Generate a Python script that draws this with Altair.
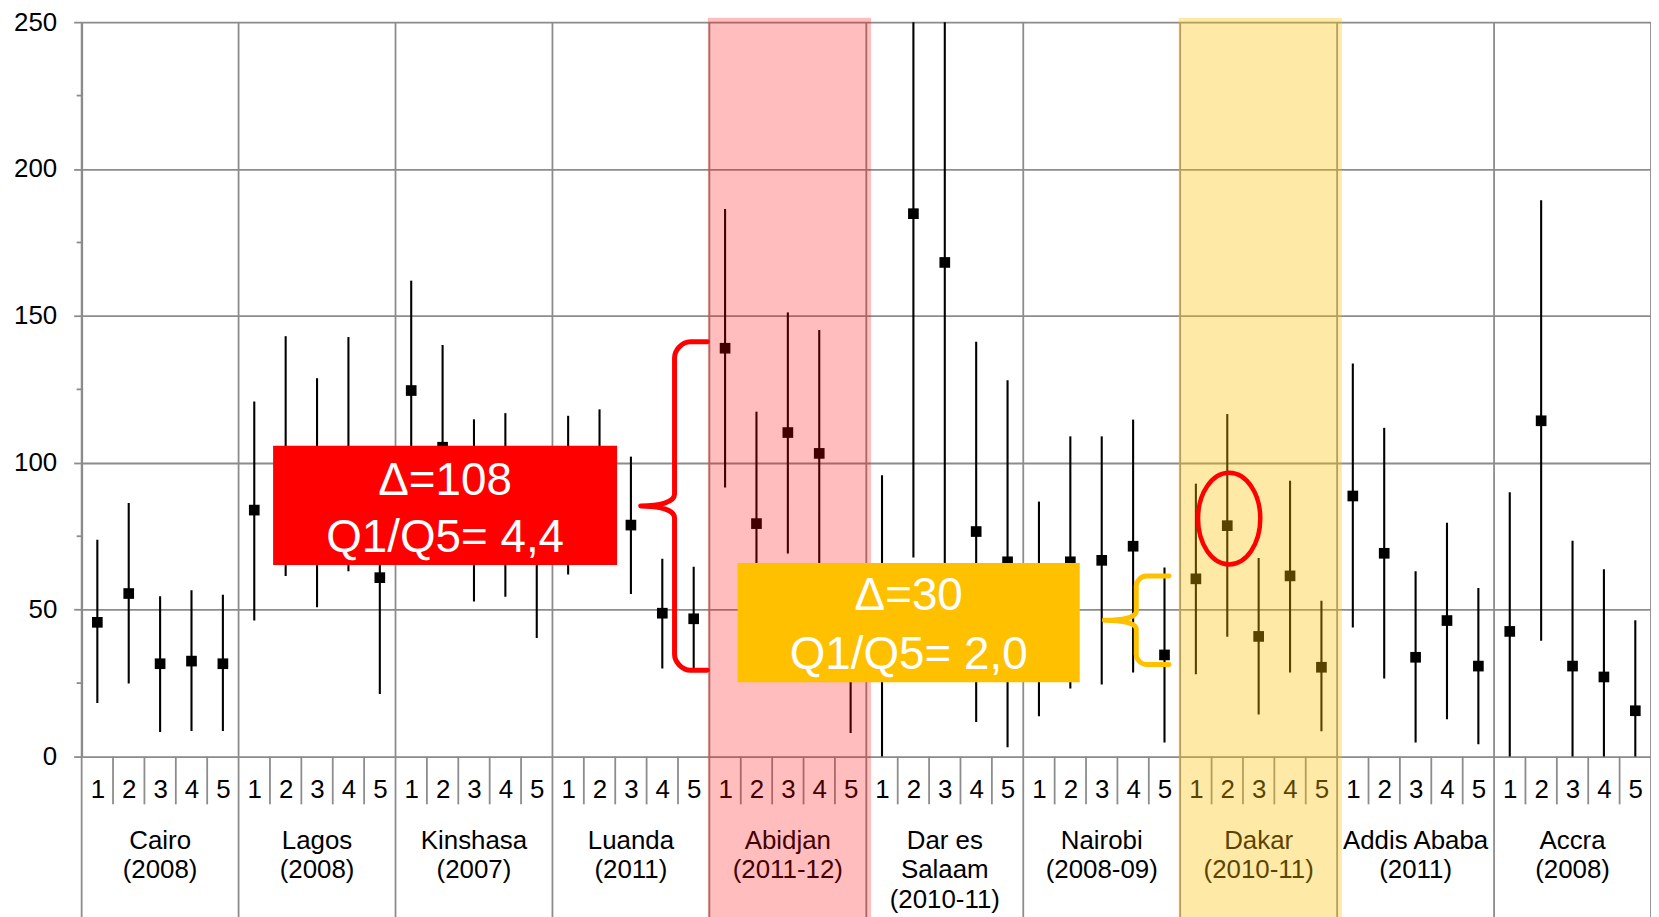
import altair as alt
import pandas as pd

FONT = "Liberation Sans"
GRID = "#8c8c8c"

# ---------------- data ----------------
cities = ["Cairo", "Lagos", "Kinshasa", "Luanda", "Abidjan",
          "Dar es Salaam", "Nairobi", "Dakar", "Addis Ababa", "Accra"]
city_labels = ["Cairo\n(2008)", "Lagos\n(2008)", "Kinshasa\n(2007)", "Luanda\n(2011)",
               "Abidjan\n(2011-12)", "Dar es\nSalaam\n(2010-11)", "Nairobi\n(2008-09)",
               "Dakar\n(2010-11)", "Addis Ababa\n(2011)", "Accra\n(2008)"]
quintiles = [1, 2, 3, 4, 5]

estimate = [
    [45.7, 55.5, 31.6, 32.5, 31.6],
    [83.9, 102.0, 90.0, 103.0, 60.9],
    [124.6, 105.3, 83.8, 85.6, 72.0],
    [89.0, 92.0, 78.8, 48.8, 46.9],
    [139.0, 79.3, 110.3, 103.2, 31.0],
    [47.5, 184.8, 168.2, 76.6, 66.3],
    [50.3, 66.3, 66.8, 71.6, 34.6],
    [60.5, 78.6, 40.9, 61.5, 30.4],
    [88.7, 69.2, 33.8, 46.3, 30.8],
    [42.6, 114.3, 30.8, 27.1, 15.6],
]
lower = [
    [18.2, 24.9, 8.4, 8.7, 8.7],
    [46.3, 61.5, 50.8, 63.1, 21.3],
    [87.0, 70.5, 52.8, 54.4, 40.4],
    [62.0, 66.0, 55.3, 30.0, 28.9],
    [91.6, 41.2, 69.1, 61.2, 8.0],
    [-0.9, 67.8, 60.0, 11.8, 3.2],
    [13.7, 23.2, 24.5, 28.6, 4.8],
    [28.0, 40.8, 14.3, 28.6, 8.6],
    [43.9, 26.6, 4.8, 12.7, 4.2],
    [-4.8, 39.4, -11.9, -9.6, -15.2],
]
upper = [
    [73.8, 86.3, 54.6, 56.6, 55.1],
    [120.9, 143.1, 128.8, 142.8, 100.5],
    [162.0, 140.1, 114.8, 116.9, 103.6],
    [116.0, 118.2, 102.1, 67.3, 64.6],
    [186.4, 117.4, 151.2, 145.2, 54.0],
    [95.8, 302.0, 276.0, 141.2, 128.1],
    [86.8, 109.0, 109.0, 114.7, 64.4],
    [92.9, 116.6, 67.6, 93.9, 53.0],
    [133.8, 111.9, 63.1, 79.6, 57.4],
    [90.0, 189.4, 73.5, 63.8, 46.4],
]
y_ticks = [0, 50, 100, 150, 200, 250]
y_minor = [25, 75, 125, 175, 225]

highlight_cities = ["Abidjan", "Dakar"]
highlight_colors = ["#ff0000", "#ffc000"]
highlight_opacity = [0.26, 0.35]

box_lines = [["\u0394=108", "Q1/Q5= 4,4"], ["\u0394=30", "Q1/Q5= 2,0"]]
box_colors = ["#ff0000", "#ffc000"]

# ---------------- tables ----------------
rows = []
for c, city in enumerate(cities):
    for qi, q in enumerate(quintiles):
        rows.append({"city": city, "q": q, "x": c * 5 + qi + 0.5,
                     "est": estimate[c][qi], "lo": lower[c][qi], "hi": upper[c][qi]})
df = pd.DataFrame(rows)

n_slots = len(cities) * 5
PLOT_W, PLOT_H = 1577, 738
PX_PER_UNIT = PLOT_H / 250.0

xscale = alt.Scale(domain=[0, n_slots], nice=False, zero=False)
yscale = alt.Scale(domain=[0, 250], nice=False, zero=False)

yaxis = alt.Axis(values=y_ticks, title=None, grid=True, gridColor=GRID, gridWidth=1.8,
                 domainColor=GRID, domainWidth=2, tickColor=GRID, tickSize=8, tickWidth=1.8,
                 labelFontSize=26, labelFont=FONT, labelColor="black", labelPadding=17)
xaxis = alt.Axis(values=[i + 0.5 for i in range(n_slots)],
                 labelExpr="floor(datum.value) % 5 + 1", title=None, grid=False,
                 ticks=False, domain=False, labelFontSize=26, labelFont=FONT,
                 labelColor="black", labelPadding=20, labelBaseline="top",
                 labelOverlap=False, labelFlush=False)


def X(field, **kw):
    return alt.X(field, type="quantitative", scale=xscale, axis=xaxis, **kw)


def Y(field, **kw):
    return alt.Y(field, type="quantitative", scale=yscale, axis=yaxis, **kw)


# city separators (through the label area)
sep_df = pd.DataFrame({"b": [c * 5 for c in range(len(cities) + 1)],
                       "top": 250, "bottom": -60})
separators = alt.Chart(sep_df).mark_rule(color=GRID, strokeWidth=1.8, clip=False).encode(
    x=X("b"), y=Y("top"), y2="bottom:Q")

qt_df = pd.DataFrame({"k": [k for k in range(1, n_slots) if k % 5 != 0],
                      "top": 0, "bottom": -48 / PX_PER_UNIT})
qticks = alt.Chart(qt_df).mark_rule(color=GRID, strokeWidth=1.8, clip=False).encode(
    x=X("k"), y=Y("top"), y2="bottom:Q")

minor = alt.Chart(pd.DataFrame({"v": y_minor})).mark_rule(color=GRID, strokeWidth=1.8).encode(
    y=Y("v"), x=alt.value(-5), x2=alt.value(0))

bars = alt.Chart(df).mark_rule(color="black", strokeWidth=2.1, clip=True).encode(
    x=X("x"), y=Y("lo"), y2="hi:Q")

points = alt.Chart(df).mark_point(shape="square", filled=True, size=115, color="black",
                                  opacity=1).encode(x=X("x"), y=Y("est"))

city_df = pd.DataFrame({"xc": [c * 5 + 2.5 for c in range(len(cities))],
                        "y0": 0, "label": city_labels})
city_text = alt.Chart(city_df).mark_text(
    align="center", baseline="top", dy=72, lineBreak="\n", lineHeight=29.5,
    fontSize=26, font=FONT, color="black", clip=False).encode(
    x=X("xc"), y=Y("y0"), text="label:N")

# highlight bands
hl_rows = []
for city, col, op in zip(highlight_cities, highlight_colors, highlight_opacity):
    c = cities.index(city)
    hl_rows.append({"x0": c * 5 - 0.05, "x1": c * 5 + 5.15, "y0": 251.5, "y1": -60,
                    "fill": col, "op": op})
hl = alt.Chart(pd.DataFrame(hl_rows)).mark_rect(clip=False).encode(
    x=X("x0"), x2="x1:Q", y=Y("y0"), y2="y1:Q",
    color=alt.Color("fill:N", scale=None), opacity=alt.Opacity("op:Q", scale=None))

# annotation boxes
box_df = pd.DataFrame({"x0": [6.10, 20.9], "x1": [17.06, 31.8],
                       "y0": [105.8, 65.9], "y1": [65.2, 25.3], "fill": box_colors})
boxes = alt.Chart(box_df).mark_rect(clip=False).encode(
    x=X("x0"), x2="x1:Q", y=Y("y0"), y2="y1:Q",
    color=alt.Color("fill:N", scale=None))

btxt_df = pd.DataFrame({
    "xc": [11.58, 11.58, 26.35, 26.35],
    "yc": [94.2, 74.7, 54.9, 35.0],
    "t": [box_lines[0][0], box_lines[0][1], box_lines[1][0], box_lines[1][1]]})
box_text = alt.Chart(btxt_df).mark_text(
    align="center", baseline="middle", fontSize=46, font=FONT, color="white", dy=1).encode(
    x=X("xc"), y=Y("yc"), text="t:N")


def brace_path(h, end, tip, r, rt):
    segs = [
        ("M", [end, -h]), ("L", [r, -h]),
        ("C", [r * 0.45, -h, 0, -h + r * 0.55, 0, -h + r]),
        ("L", [0, -rt]),
        ("C", [0, -rt * 0.3, -tip * 0.45, 0, -tip, 0]),
        ("C", [-tip * 0.45, 0, 0, rt * 0.3, 0, rt]),
        ("L", [0, h - r]),
        ("C", [0, h - r * 0.55, r * 0.45, h, r, h]),
        ("L", [end, h]),
    ]
    out = []
    for cmd, nums in segs:
        out.append(cmd + " " + " ".join(f"{v / h:.4f}" for v in nums))
    return " ".join(out)


red_h = (141.2 - 29.4) / 2 * PX_PER_UNIT
yel_h = (61.5 - 31.4) / 2 * PX_PER_UNIT
red_brace = alt.Chart(pd.DataFrame({"x": [18.89], "y": [85.3]})).mark_point(
    shape=brace_path(red_h, 33, 34, 16, 12), size=(2 * red_h) ** 2, filled=False,
    stroke="#ff0000", strokeWidth=5, opacity=1, strokeCap="round", strokeJoin="round").encode(
    x=X("x"), y=Y("y"))
yel_brace = alt.Chart(pd.DataFrame({"x": [33.6], "y": [46.4]})).mark_point(
    shape=brace_path(yel_h, 33, 32, 10, 9), size=(2 * yel_h) ** 2, filled=False,
    stroke="#ffc000", strokeWidth=5, opacity=1, strokeCap="round", strokeJoin="round").encode(
    x=X("x"), y=Y("y"))

k = 0.5523
rx = 0.68
ellipse_path = (f"M {rx} 0 C {rx} {k} {rx * k:.4f} 1 0 1 C {-rx * k:.4f} 1 {-rx} {k} {-rx} 0 "
                f"C {-rx} {-k} {-rx * k:.4f} -1 0 -1 C {rx * k:.4f} -1 {rx} {-k} {rx} 0 Z")
ellipse = alt.Chart(pd.DataFrame({"x": [36.56], "y": [81.0]})).mark_point(
    shape=ellipse_path, size=92 ** 2, filled=False, stroke="#ff0000", strokeWidth=4.5,
    opacity=1).encode(x=X("x"), y=Y("y"))

chart = alt.layer(
    bars, separators, qticks, minor, points, city_text, hl,
    boxes, box_text, red_brace, yel_brace, ellipse
).properties(
    width=PLOT_W, height=PLOT_H,
    autosize=alt.AutoSizeParams(type="none"),
    padding={"left": 74, "top": 12, "right": 0, "bottom": 159},
    background="white",
).configure_view(stroke=None).configure(font=FONT)

chart.save("out.html", embed_options={"renderer": "svg", "actions": False})
